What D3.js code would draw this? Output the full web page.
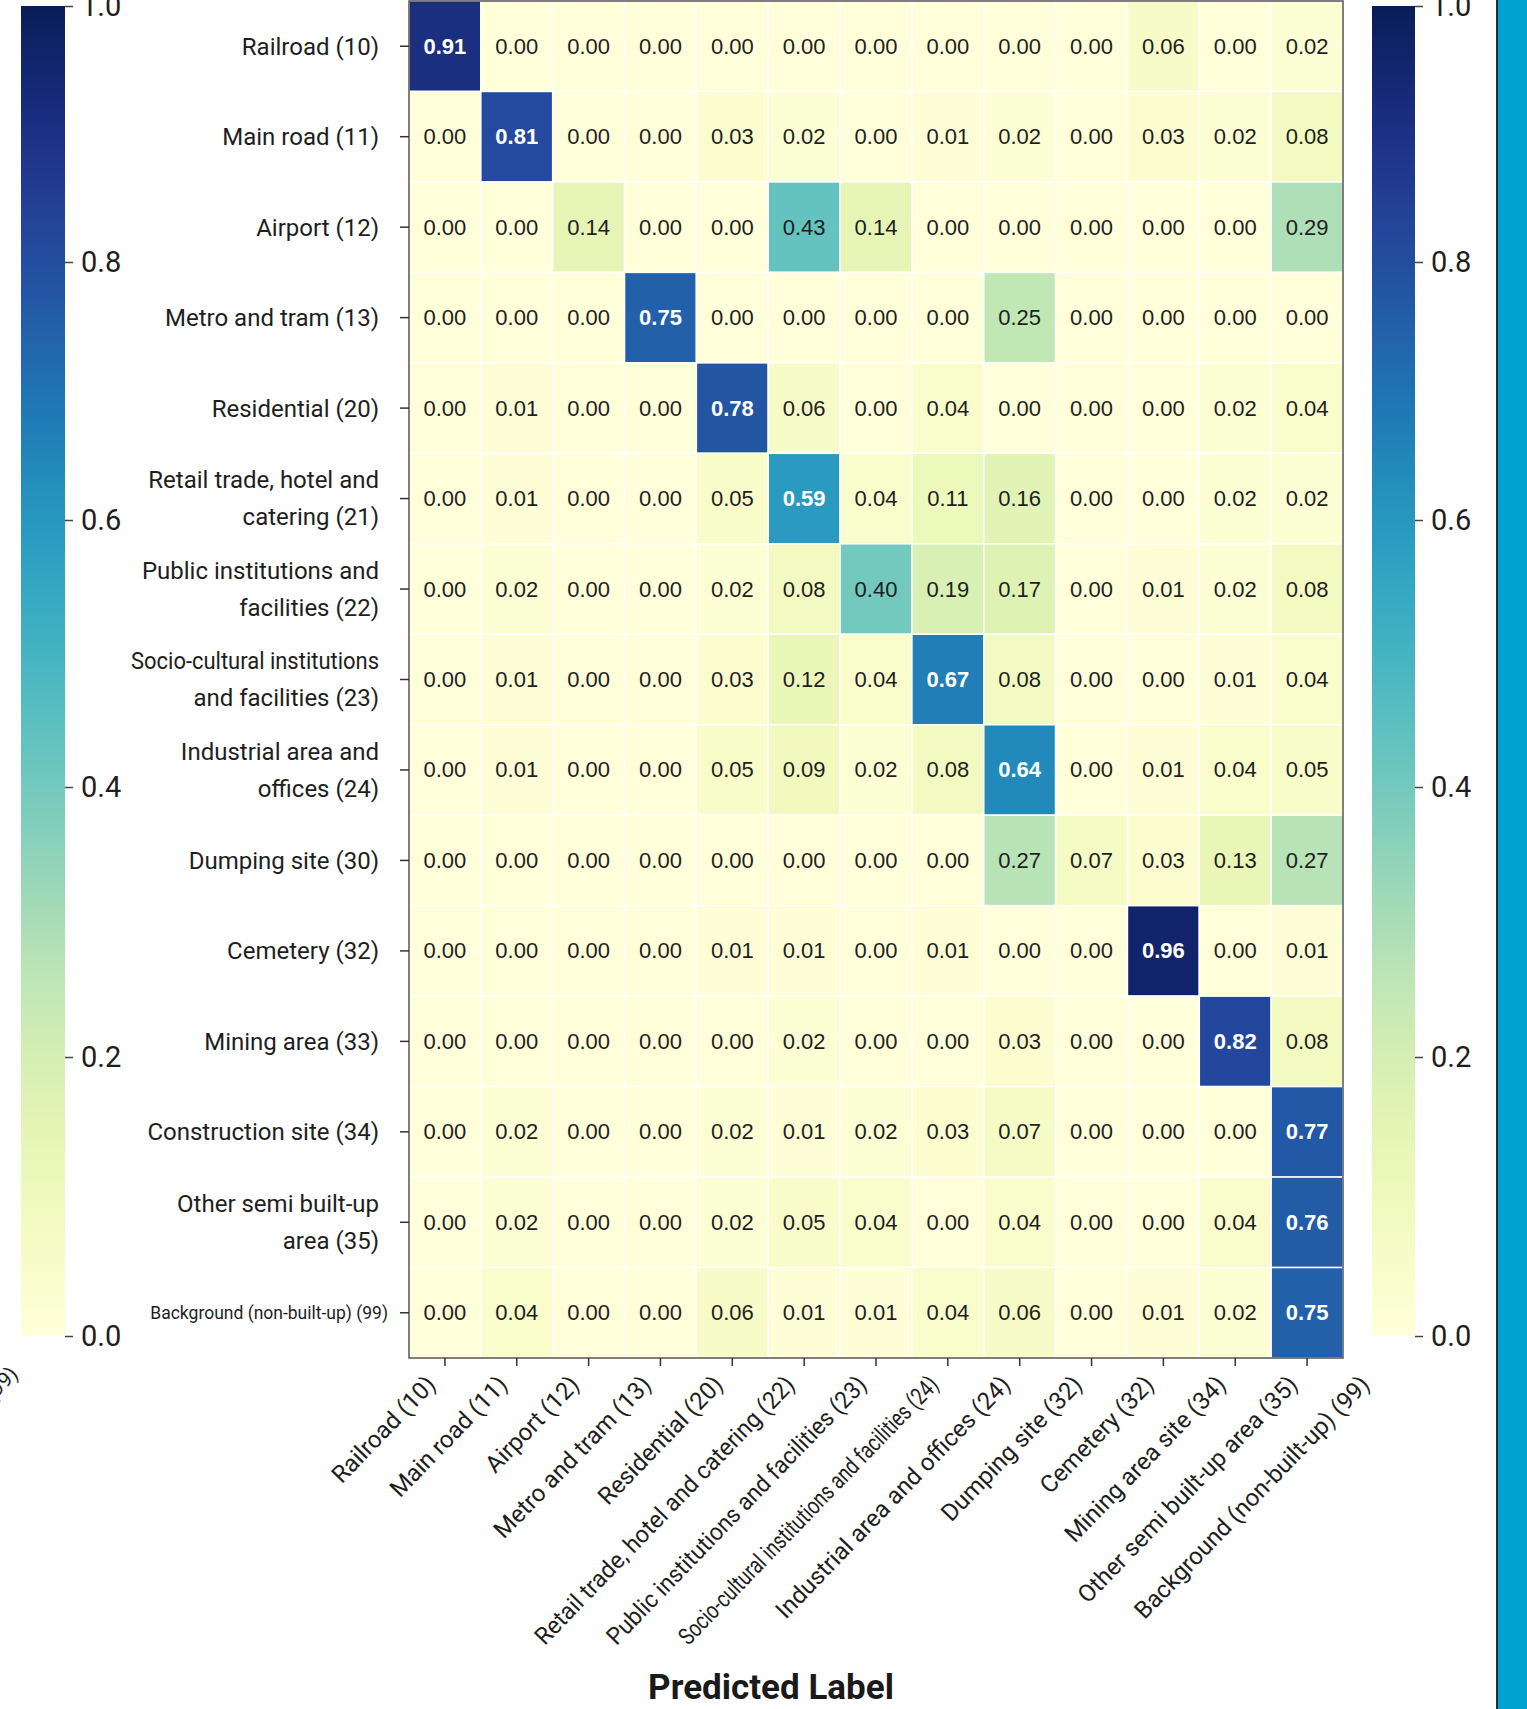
<!DOCTYPE html>
<html>
<head>
<meta charset="utf-8">
<script src="https://cdn.jsdelivr.net/npm/d3@7"></script>
<style>
  html, body { margin: 0; padding: 0; background: #ffffff; }
  svg { display: block; }
</style>
</head>
<body>
<svg id="chart" width="1527" height="1709"></svg>
<script>
// Row classes (true label)
const trueLabels = [
  ["Railroad (10)"],
  ["Main road (11)"],
  ["Airport (12)"],
  ["Metro and tram (13)"],
  ["Residential (20)"],
  ["Retail trade, hotel and", "catering (21)"],
  ["Public institutions and", "facilities (22)"],
  ["Socio-cultural institutions", "and facilities (23)"],
  ["Industrial area and", "offices (24)"],
  ["Dumping site (30)"],
  ["Cemetery (32)"],
  ["Mining area (33)"],
  ["Construction site (34)"],
  ["Other semi built-up", "area (35)"],
  ["Background (non-built-up) (99)"]
];

// Column classes (predicted label)
const predictedLabels = [
  "Railroad (10)",
  "Main road (11)",
  "Airport (12)",
  "Metro and tram (13)",
  "Residential (20)",
  "Retail trade, hotel and catering (22)",
  "Public institutions and facilities (23)",
  "Socio-cultural institutions and facilities (24)",
  "Industrial area and offices (24)",
  "Dumping site (32)",
  "Cemetery (32)",
  "Mining area site (34)",
  "Other semi built-up area (35)",
  "Background (non-built-up) (99)"
];

// Normalised confusion matrix, one row per true class
const matrix = [
  [0.91, 0.00, 0.00, 0.00, 0.00, 0.00, 0.00, 0.00, 0.00, 0.00, 0.06, 0.00, 0.02],
  [0.00, 0.81, 0.00, 0.00, 0.03, 0.02, 0.00, 0.01, 0.02, 0.00, 0.03, 0.02, 0.08],
  [0.00, 0.00, 0.14, 0.00, 0.00, 0.43, 0.14, 0.00, 0.00, 0.00, 0.00, 0.00, 0.29],
  [0.00, 0.00, 0.00, 0.75, 0.00, 0.00, 0.00, 0.00, 0.25, 0.00, 0.00, 0.00, 0.00],
  [0.00, 0.01, 0.00, 0.00, 0.78, 0.06, 0.00, 0.04, 0.00, 0.00, 0.00, 0.02, 0.04],
  [0.00, 0.01, 0.00, 0.00, 0.05, 0.59, 0.04, 0.11, 0.16, 0.00, 0.00, 0.02, 0.02],
  [0.00, 0.02, 0.00, 0.00, 0.02, 0.08, 0.40, 0.19, 0.17, 0.00, 0.01, 0.02, 0.08],
  [0.00, 0.01, 0.00, 0.00, 0.03, 0.12, 0.04, 0.67, 0.08, 0.00, 0.00, 0.01, 0.04],
  [0.00, 0.01, 0.00, 0.00, 0.05, 0.09, 0.02, 0.08, 0.64, 0.00, 0.01, 0.04, 0.05],
  [0.00, 0.00, 0.00, 0.00, 0.00, 0.00, 0.00, 0.00, 0.27, 0.07, 0.03, 0.13, 0.27],
  [0.00, 0.00, 0.00, 0.00, 0.01, 0.01, 0.00, 0.01, 0.00, 0.00, 0.96, 0.00, 0.01],
  [0.00, 0.00, 0.00, 0.00, 0.00, 0.02, 0.00, 0.00, 0.03, 0.00, 0.00, 0.82, 0.08],
  [0.00, 0.02, 0.00, 0.00, 0.02, 0.01, 0.02, 0.03, 0.07, 0.00, 0.00, 0.00, 0.77],
  [0.00, 0.02, 0.00, 0.00, 0.02, 0.05, 0.04, 0.00, 0.04, 0.00, 0.00, 0.04, 0.76],
  [0.00, 0.04, 0.00, 0.00, 0.06, 0.01, 0.01, 0.04, 0.06, 0.00, 0.01, 0.02, 0.75]
];

const colorbarTicks = [0.0, 0.2, 0.4, 0.6, 0.8, 1.0];
const xTitle = "Predicted Label";

// ---- layout ----
const svg = d3.select("#chart");
const plot = { left: 409, right: 1343, top: 1, bottom: 1358 };
const nCols = matrix[0].length;

const color = d3.scaleSequential(d3.interpolateYlGnBu).domain([0, 1]);

const x = d3.scaleBand()
  .domain(d3.range(nCols))
  .range([plot.left, plot.right]);

const y = d3.scaleBand()
  .domain(d3.range(trueLabels.length))
  .range([plot.top, plot.bottom]);

// label positions continue with the same step past the last column
const xLab = d3.scaleBand()
  .domain(d3.range(predictedLabels.length))
  .range([plot.left, plot.left + x.step() * predictedLabels.length]);

const labelFont = "Roboto, 'Noto Sans', 'DejaVu Sans', sans-serif";
const cellFont = "'Liberation Sans', Arial, sans-serif";

// squeeze a text element to at most maxLen pixels
function fitText(sel, maxLen) {
  sel.each(function() {
    if (this.getComputedTextLength() > maxLen) {
      d3.select(this).attr("textLength", maxLen).attr("lengthAdjust", "spacingAndGlyphs");
    }
  });
}

// ---- cells ----
const cells = [];
matrix.forEach((row, r) => row.forEach((v, c) => cells.push({ r, c, v })));

const g = svg.append("g");
g.selectAll("rect.cell")
  .data(cells)
  .join("rect")
  .attr("class", "cell")
  .attr("x", d => x(d.c))
  .attr("y", d => y(d.r))
  .attr("width", x.bandwidth())
  .attr("height", y.bandwidth())
  .attr("fill", d => color(d.v))
  .attr("stroke", "#ffffff")
  .attr("stroke-width", 1.5);

g.selectAll("text.val")
  .data(cells)
  .join("text")
  .attr("class", "val")
  .attr("x", d => x(d.c) + x.bandwidth() / 2)
  .attr("y", d => y(d.r) + y.bandwidth() / 2)
  .attr("text-anchor", "middle")
  .attr("dominant-baseline", "central")
  .attr("font-family", cellFont)
  .attr("font-size", 22)
  .attr("font-weight", d => d.v > 0.5 ? "bold" : "normal")
  .attr("fill", d => d.v > 0.5 ? "#ffffff" : "#1e1e1e")
  .text(d => d.v.toFixed(2));

// frame
svg.append("rect")
  .attr("x", plot.left)
  .attr("y", plot.top)
  .attr("width", plot.right - plot.left)
  .attr("height", plot.bottom - plot.top)
  .attr("fill", "none")
  .attr("stroke", "#555555")
  .attr("stroke-width", 1.5);

// ---- y axis ----
const yAxis = svg.append("g")
  .attr("transform", `translate(${plot.left},0)`)
  .call(d3.axisLeft(y).tickSize(9).tickPadding(21).tickFormat(() => ""));
yAxis.select(".domain").remove();
yAxis.selectAll(".tick line").attr("stroke", "#333333").attr("stroke-width", 1.5);
yAxis.selectAll(".tick text").each(function(i) {
  const lines = trueLabels[i];
  const small = lines[0].length > 28;
  const t = d3.select(this)
    .attr("font-family", labelFont)
    .attr("font-size", small ? 17.5 : 24)
    .attr("fill", "#1e1e1e")
    .attr("dy", null);
  const lh = 37;
  lines.forEach((ln, k) => {
    t.append("tspan")
      .attr("x", small ? -21 : -30)
      .attr("y", (k - (lines.length - 1) / 2) * lh)
      .attr("dy", "0.35em")
      .text(ln);
  });
});
fitText(yAxis.selectAll(".tick text tspan"), 248);

// ---- x axis ----
const xAxis = svg.append("g")
  .attr("transform", `translate(0,${plot.bottom})`)
  .call(d3.axisBottom(x).tickSize(8).tickFormat(() => ""));
xAxis.select(".domain").remove();
xAxis.selectAll(".tick line").attr("stroke", "#333333").attr("stroke-width", 1.5);

const xLabels = svg.append("g")
  .selectAll("text")
  .data(predictedLabels)
  .join("text")
  .attr("transform", (d, i) =>
    `translate(${xLab(i) + xLab.bandwidth() / 2 - 14},${plot.bottom + 22}) rotate(-46)`)
  .attr("text-anchor", "end")
  .attr("dy", "0.35em")
  .attr("font-family", labelFont)
  .attr("font-size", 24)
  .attr("fill", "#1e1e1e")
  .text(d => d);
fitText(xLabels, 362);

// trailing label of a neighbouring panel at the left edge
svg.append("text")
  .attr("transform", `translate(14,${plot.bottom + 12}) rotate(-46)`)
  .attr("text-anchor", "end")
  .attr("dy", "0.35em")
  .attr("font-family", labelFont)
  .attr("font-size", 21)
  .attr("fill", "#1e1e1e")
  .text(predictedLabels[predictedLabels.length - 1]);

svg.append("text")
  .attr("x", 771)
  .attr("y", 1699)
  .attr("text-anchor", "middle")
  .attr("font-family", labelFont)
  .attr("font-size", 35)
  .attr("font-weight", "bold")
  .attr("fill", "#1a1a1a")
  .text(xTitle);

// ---- colour bars ----
// tick spacing on the bars is slightly uneven, so the scale is piecewise
const cbScale = d3.scaleLinear()
  .domain(colorbarTicks)
  .range([1336, 1057, 787, 520, 262, 6]);
const cbTop = cbScale(1), cbBottom = cbScale(0);

const grad = svg.append("defs").append("linearGradient")
  .attr("id", "ylgnbu")
  .attr("gradientUnits", "userSpaceOnUse")
  .attr("x1", 0).attr("y1", cbBottom).attr("x2", 0).attr("y2", cbTop);
d3.range(0, 1.0001, 0.025).forEach(t => {
  grad.append("stop")
    .attr("offset", (cbBottom - cbScale(t)) / (cbBottom - cbTop))
    .attr("stop-color", color(t));
});

function colorbar(x0, width) {
  const cb = svg.append("g");
  cb.append("rect")
    .attr("x", x0)
    .attr("y", cbTop)
    .attr("width", width)
    .attr("height", cbBottom - cbTop)
    .attr("fill", "url(#ylgnbu)");
  const ax = cb.append("g")
    .attr("transform", `translate(${x0 + width},0)`)
    .call(d3.axisRight(cbScale).tickValues(colorbarTicks).tickSize(8).tickPadding(8)
      .tickFormat(d3.format(".1f")));
  ax.select(".domain").remove();
  ax.selectAll(".tick line").attr("stroke", "#444444").attr("stroke-width", 1.5);
  ax.selectAll(".tick text")
    .attr("font-family", labelFont)
    .attr("font-size", 29)
    .attr("fill", "#1e1e1e");
}
colorbar(21, 44);
colorbar(1372, 43);

// ---- side band ----
svg.append("rect")
  .attr("x", 1497).attr("y", 0)
  .attr("width", 30).attr("height", 1709)
  .attr("fill", "#00a3d0");
svg.append("line")
  .attr("x1", 1497).attr("x2", 1497)
  .attr("y1", 0).attr("y2", 1709)
  .attr("stroke", "#1b2f40")
  .attr("stroke-width", 2);
</script>
</body>
</html>
